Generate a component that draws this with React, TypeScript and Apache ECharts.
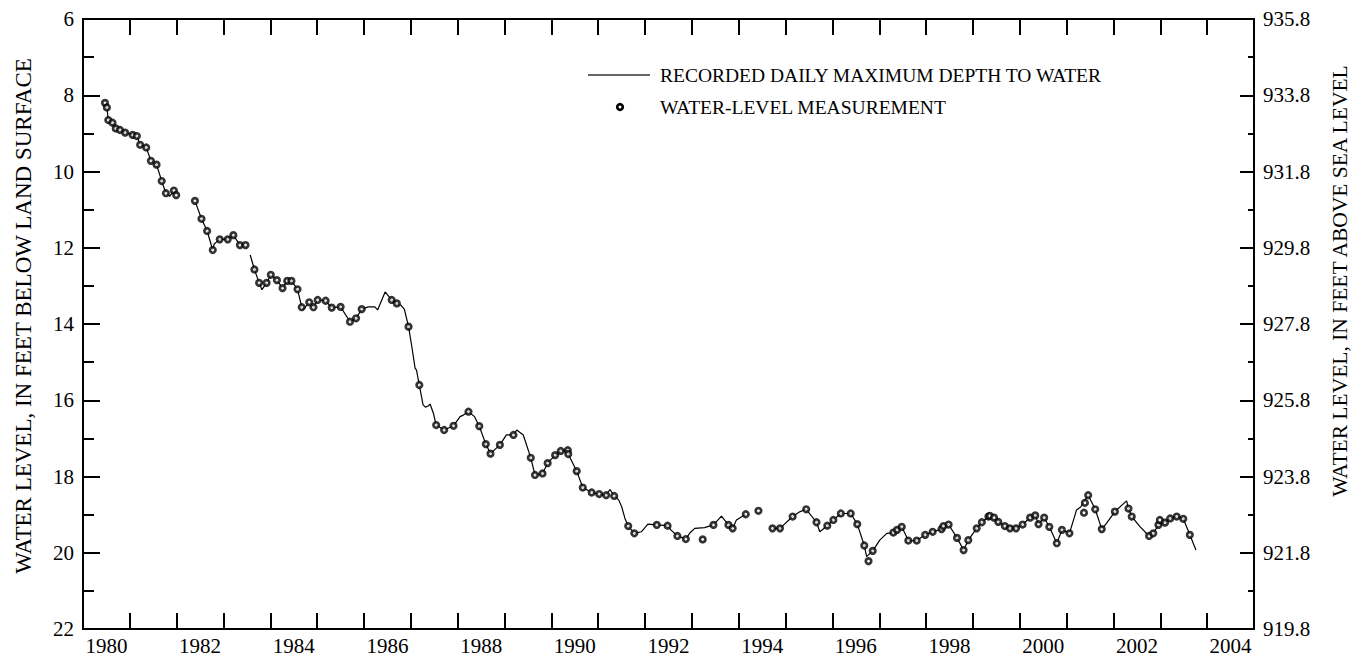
import React, { useEffect, useRef } from "react";
import * as echarts from "echarts";

// Periodic water-level measurements (decimal year, depth in feet below land surface)
const measYears = [
  1980.47, 1980.51, 1980.54, 1980.63, 1980.70, 1980.79, 1980.90, 1981.06, 1981.15, 1981.22,
  1981.35, 1981.45, 1981.57, 1981.68, 1981.77, 1981.94, 1981.99, 1982.39, 1982.53, 1982.65,
  1982.77, 1982.92, 1983.09, 1983.21, 1983.35, 1983.47, 1983.66, 1983.76, 1983.92, 1984.01,
  1984.14, 1984.26, 1984.36, 1984.45, 1984.58, 1984.67, 1984.83, 1984.92, 1985.01, 1985.18,
  1985.31, 1985.50, 1985.70, 1985.83, 1985.95, 1986.59, 1986.70, 1986.95, 1987.18, 1987.54,
  1987.71, 1987.91, 1988.23, 1988.46, 1988.60, 1988.70, 1988.90, 1989.19, 1989.56, 1989.65,
  1989.81, 1989.92, 1990.08, 1990.20, 1990.35, 1990.36, 1990.54, 1990.67, 1990.86, 1991.02,
  1991.17, 1991.34, 1991.64, 1991.77, 1992.25, 1992.48, 1992.69, 1992.87, 1993.23, 1993.46,
  1993.78, 1993.87, 1994.15, 1994.42, 1994.72, 1994.88, 1995.15, 1995.44, 1995.66, 1995.89,
  1996.02, 1996.18, 1996.39, 1996.53, 1996.68, 1996.77, 1996.86, 1997.30, 1997.38, 1997.48,
  1997.62, 1997.80, 1997.98, 1998.14, 1998.33, 1998.37, 1998.48, 1998.66, 1998.80, 1998.90,
  1999.08, 1999.19, 1999.33, 1999.36, 1999.45, 1999.54, 1999.68, 1999.79, 1999.92, 2000.06,
  2000.22, 2000.33, 2000.40, 2000.52, 2000.63, 2000.79, 2000.90, 2001.06, 2001.37, 2001.39,
  2001.46, 2001.61, 2001.75, 2002.03, 2002.32, 2002.39, 2002.76, 2002.85, 2002.96, 2002.99,
  2003.10, 2003.21, 2003.35, 2003.49, 2003.63,
];
const measDepths = [
  8.20, 8.32, 8.65, 8.72, 8.87, 8.91, 8.98, 9.04, 9.07, 9.30,
  9.37, 9.72, 9.82, 10.25, 10.57, 10.50, 10.62, 10.77, 11.24, 11.56,
  12.06, 11.78, 11.78, 11.67, 11.93, 11.93, 12.57, 12.92, 12.92, 12.71,
  12.85, 13.06, 12.87, 12.87, 13.09, 13.56, 13.43, 13.56, 13.37, 13.39,
  13.57, 13.55, 13.94, 13.85, 13.61, 13.37, 13.46, 14.07, 15.60, 16.65,
  16.78, 16.67, 16.30, 16.68, 17.15, 17.40, 17.17, 16.91, 17.51, 17.96,
  17.92, 17.65, 17.44, 17.33, 17.31, 17.41, 17.86, 18.29, 18.42, 18.46,
  18.49, 18.51, 19.30, 19.49, 19.27, 19.29, 19.56, 19.64, 19.65, 19.27,
  19.27, 19.36, 18.99, 18.90, 19.36, 19.36, 19.05, 18.86, 19.20, 19.29,
  19.14, 18.97, 18.97, 19.25, 19.81, 20.22, 19.95, 19.47, 19.40, 19.32,
  19.68, 19.68, 19.53, 19.45, 19.38, 19.30, 19.26, 19.61, 19.93, 19.67,
  19.36, 19.20, 19.05, 19.03, 19.08, 19.19, 19.30, 19.36, 19.36, 19.26,
  19.08, 19.02, 19.25, 19.08, 19.32, 19.75, 19.40, 19.49, 18.95, 18.69,
  18.49, 18.86, 19.38, 18.92, 18.84, 19.05, 19.56, 19.49, 19.27, 19.14,
  19.21, 19.10, 19.05, 19.11, 19.53,
];

// Recorded daily maximum depth to water (null = gap in record)
const lineYears = [
  1980.47, 1980.51, 1980.54, 1980.63, 1980.70, 1980.79, 1980.90, 1981.06, 1981.15, 1981.22,
  1981.35, 1981.45, 1981.57, 1981.68, 1981.77, 1981.85, 1981.94, 1981.99, 1982.2,
  1982.39, 1982.53, 1982.65, 1982.77, 1982.80, 1982.92, 1983.09, 1983.21, 1983.35, 1983.47, 1983.52,
  1983.57, 1983.66, 1983.76, 1983.82, 1983.92, 1984.01, 1984.14, 1984.26, 1984.36, 1984.45,
  1984.58, 1984.67, 1984.70, 1984.83, 1984.92, 1985.01, 1985.18, 1985.31, 1985.50, 1985.70,
  1985.83, 1985.95, 1986.09, 1986.23, 1986.29, 1986.45, 1986.59, 1986.70, 1986.78, 1986.86,
  1986.95, 1987.02, 1987.09, 1987.12, 1987.18, 1987.26, 1987.31, 1987.37, 1987.41, 1987.48,
  1987.54, 1987.71, 1987.91, 1988.05, 1988.12, 1988.23, 1988.36, 1988.46, 1988.60, 1988.70,
  1988.90, 1989.04, 1989.19, 1989.26, 1989.40, 1989.56, 1989.65, 1989.81, 1989.92, 1990.08,
  1990.20, 1990.35, 1990.36, 1990.54, 1990.67, 1990.86, 1991.02, 1991.17, 1991.25, 1991.34,
  1991.44, 1991.50, 1991.57, 1991.64, 1991.77, 1991.92, 1992.06, 1992.25, 1992.48, 1992.55,
  1992.69, 1992.87, 1992.95, 1993.06, 1993.27, 1993.46, 1993.63, 1993.78, 1993.87, 1993.95,
  1994.15, 1994.4,
  1994.72, 1994.88, 1995.15, 1995.31, 1995.44, 1995.66, 1995.73, 1995.89, 1996.02, 1996.18,
  1996.39, 1996.53, 1996.68, 1996.73, 1996.86, 1997.01, 1997.16, 1997.30, 1997.38, 1997.48,
  1997.62, 1997.80, 1997.98, 1998.14, 1998.33, 1998.48, 1998.66, 1998.80, 1998.90, 1999.08,
  1999.19, 1999.36, 1999.54, 1999.68, 1999.79, 1999.92, 2000.06, 2000.22, 2000.33, 2000.40,
  2000.52, 2000.63, 2000.79, 2000.90, 2001.06, 2001.21, 2001.30, 2001.46, 2001.61, 2001.75,
  2001.85, 2002.03, 2002.28, 2002.32, 2002.39, 2002.57, 2002.76, 2002.85, 2002.96, 2003.10,
  2003.21, 2003.35, 2003.49, 2003.63, 2003.76,
];
const lineDepths = [
  8.20, 8.32, 8.65, 8.72, 8.87, 8.91, 8.98, 9.04, 9.07, 9.30,
  9.37, 9.72, 9.82, 10.25, 10.57, 10.65, 10.50, 10.62, null,
  10.77, 11.24, 11.56, 12.06, 11.90, 11.78, 11.78, 11.67, 11.93, 11.93, null,
  12.19, 12.57, 12.92, 13.10, 12.92, 12.71, 12.85, 13.06, 12.87, 12.87,
  13.09, 13.56, 13.62, 13.43, 13.56, 13.37, 13.39, 13.57, 13.55, 13.94,
  13.85, 13.61, 13.55, 13.55, 13.63, 13.16, 13.37, 13.46, 13.50, 13.61,
  14.07, 14.59, 15.16, 15.21, 15.60, 16.12, 16.18, 16.15, 16.10, 16.34,
  16.65, 16.78, 16.67, 16.43, 16.39, 16.30, 16.43, 16.68, 17.15, 17.40,
  17.17, 16.91, 16.91, 16.78, 16.91, 17.51, 17.96, 17.92, 17.65, 17.44,
  17.33, 17.31, 17.41, 17.86, 18.29, 18.42, 18.46, 18.49, 18.34, 18.51,
  18.62, 18.79, 19.10, 19.30, 19.49, 19.45, 19.25, 19.27, 19.29, 19.40,
  19.56, 19.64, 19.49, 19.36, 19.34, 19.27, 19.04, 19.27, 19.36, 19.14,
  18.99, null,
  19.36, 19.36, 19.05, 18.92, 18.86, 19.20, 19.45, 19.29, 19.14, 18.97,
  18.97, 19.25, 19.81, 20.10, 19.95, 19.67, 19.49, 19.47, 19.40, 19.32,
  19.68, 19.68, 19.53, 19.45, 19.38, 19.26, 19.61, 19.93, 19.67, 19.36,
  19.20, 19.03, 19.19, 19.30, 19.36, 19.36, 19.26, 19.08, 19.02, 19.25,
  19.08, 19.32, 19.75, 19.40, 19.49, 18.88, 18.80, 18.49, 18.86, 19.38,
  19.23, 18.92, 18.64, 18.84, 19.05, 19.32, 19.56, 19.49, 19.27, 19.21,
  19.10, 19.05, 19.11, 19.53, 19.93,
];

const LAND_SURFACE_ELEV = 941.8;
const LEFT_TITLE = "WATER LEVEL, IN FEET BELOW LAND SURFACE";
const RIGHT_TITLE = "WATER LEVEL, IN FEET ABOVE SEA LEVEL";
const LEGEND_LINE = "RECORDED DAILY MAXIMUM DEPTH TO WATER";
const LEGEND_MEAS = "WATER-LEVEL MEASUREMENT";

const FONT = "Liberation Serif";
const BLACK = "#000";

export default function App() {
  const ref = useRef<HTMLDivElement>(null);

  useEffect(() => {
    document.body.style.margin = "0";
    const chart = echarts.init(ref.current!, null, { renderer: "svg" });

    const lineData = lineYears.map((y, i) =>
      lineDepths[i] === null ? [y, "-"] : [y, lineDepths[i]]
    );
    const measData = measYears.map((y, i) => [y, measDepths[i]]);

    const labelStyle = { color: BLACK, fontFamily: FONT, fontSize: 21 };
    const axisLine = { show: true, lineStyle: { color: BLACK, width: 2 } };

    chart.setOption({
      animation: false,
      backgroundColor: "#fff",
      grid: { left: 83, right: 115, top: 19, bottom: 33, containLabel: false },
      xAxis: [
        {
          type: "value", position: "bottom", min: 1980, max: 2005, interval: 1,
          axisLine, axisTick: { show: true, inside: true, length: 16, lineStyle: { color: BLACK, width: 2 } },
          axisLabel: { show: false }, splitLine: { show: false },
        },
        {
          type: "value", position: "bottom", min: 1980, max: 2005, interval: 0.5,
          axisLine: { show: false }, axisTick: { show: false }, splitLine: { show: false },
          axisLabel: {
            ...labelStyle, margin: 6, showMinLabel: false, showMaxLabel: false,
            formatter: (v: number) => {
              const f = Math.floor(v + 1e-6);
              return v - f > 0.4 && f % 2 === 0 ? String(f) : "";
            },
          },
        },
        {
          type: "value", position: "top", min: 1980, max: 2005, interval: 1,
          axisLine, axisTick: { show: true, inside: true, length: 16, lineStyle: { color: BLACK, width: 2 } },
          axisLabel: { show: false }, splitLine: { show: false },
        },
      ],
      yAxis: [
        {
          type: "value", position: "left", inverse: true, min: 6, max: 22, interval: 2,
          axisLine,
          axisTick: { show: true, inside: true, length: 17, lineStyle: { color: BLACK, width: 2 } },
          minorTick: { show: true, splitNumber: 2, length: 11, lineStyle: { color: BLACK, width: 2 } },
          axisLabel: { ...labelStyle, margin: 9 },
          splitLine: { show: false },
        },
        {
          type: "value", position: "right", inverse: true, min: 6, max: 22, interval: 2,
          axisLine,
          axisTick: { show: true, inside: true, length: 14, lineStyle: { color: BLACK, width: 2 } },
          minorTick: { show: true, splitNumber: 2, length: 6, lineStyle: { color: BLACK, width: 2 } },
          axisLabel: { ...labelStyle, margin: 9, formatter: (v: number) => (LAND_SURFACE_ELEV - v).toFixed(1) },
          splitLine: { show: false },
        },
      ],
      series: [
        {
          name: LEGEND_LINE, type: "line", xAxisIndex: 0, yAxisIndex: 0,
          data: lineData, symbol: "none", connectNulls: false,
          lineStyle: { color: BLACK, width: 1.2 }, z: 2,
        },
        {
          name: LEGEND_MEAS, type: "scatter", xAxisIndex: 0, yAxisIndex: 0,
          data: measData, symbol: "circle", symbolSize: 5.5,
          itemStyle: { color: "#fff", borderColor: BLACK, borderWidth: 2.7 }, z: 3,
        },
      ],
      graphic: [
        {
          type: "text", x: 23, y: 316, rotation: Math.PI / 2,
          style: { text: LEFT_TITLE, fill: BLACK, font: `23px "${FONT}"`, align: "center", verticalAlign: "middle" },
        },
        {
          type: "text", x: 1340, y: 281, rotation: Math.PI / 2,
          style: { text: RIGHT_TITLE, fill: BLACK, font: `21.5px "${FONT}"`, align: "center", verticalAlign: "middle" },
        },
        {
          type: "line", shape: { x1: 588, y1: 75, x2: 650, y2: 75 },
          style: { stroke: "#333", lineWidth: 1.3 },
        },
        {
          type: "circle", shape: { cx: 620, cy: 107, r: 2.8 },
          style: { fill: "#fff", stroke: BLACK, lineWidth: 2.7 },
        },
        {
          type: "text", x: 660, y: 75,
          style: { text: LEGEND_LINE, fill: BLACK, font: `19.5px "${FONT}"`, align: "left", verticalAlign: "middle" },
        },
        {
          type: "text", x: 660, y: 107,
          style: { text: LEGEND_MEAS, fill: BLACK, font: `19.5px "${FONT}"`, align: "left", verticalAlign: "middle" },
        },
      ],
    });

    return () => chart.dispose();
  }, []);

  return <div ref={ref} style={{ width: 1369, height: 662 }} />;
}
